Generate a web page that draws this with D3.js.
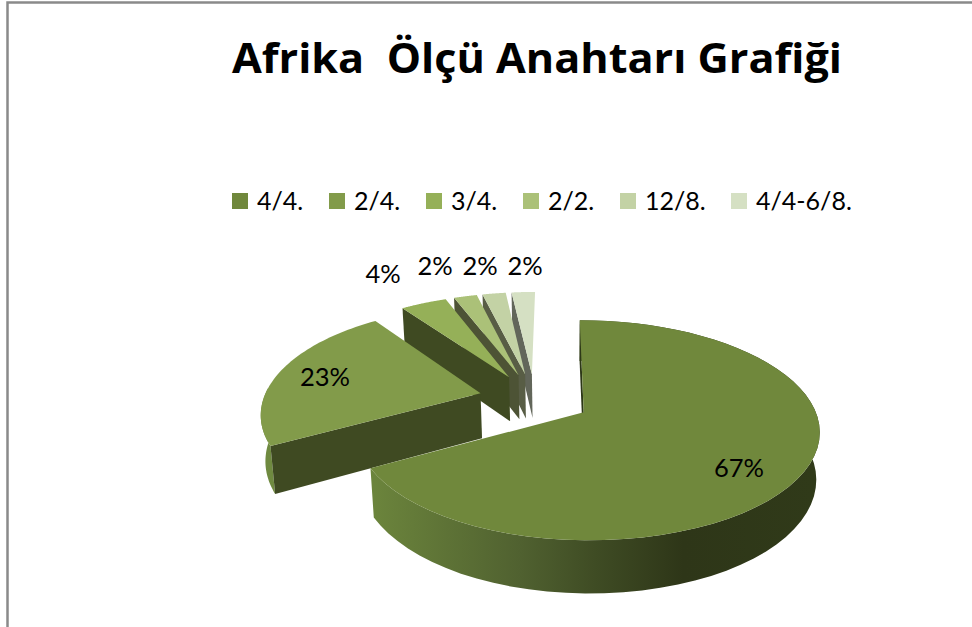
<!DOCTYPE html>
<html><head><meta charset="utf-8">
<script src="https://cdn.jsdelivr.net/npm/d3@7/dist/d3.min.js"></script>
<style>html,body{margin:0;padding:0;background:#fff}svg{display:block}text{font-family:Lato,sans-serif;fill:#000}</style>
</head><body><svg id="c" width="972" height="627"></svg>
<script>
const title = "Afrika  Ölçü Anahtarı Grafiği";
const categories = ["4/4.","2/4.","3/4.","2/2.","12/8.","4/4-6/8."];
const percents = [67,23,4,2,2,2];
const colours = ["#70883c","#829b4a","#95b058","#abc178","#c3d2a5","#d5e0c3"];
const sideColours = ["#3f4a22","#3f4a22","#3f4a22","#4d5335","#585d45","#62665a"];
const legendX = [232,329,426,523,620,731];

const svg = d3.select("#c");
const colour = d3.scaleOrdinal(categories, colours);
const side = d3.scaleOrdinal(categories, sideColours);

// frame
svg.append("path").attr("d","M7.5,627V2.5H972").attr("fill","none").attr("stroke","#8a8a8a").attr("stroke-width",2.5);

svg.append("text").attr("x",232).attr("y",73).attr("font-size",42).attr("font-weight",700)
  .style("font-family","'Open Sans',sans-serif").style("white-space","pre")
  .attr("textLength",610).attr("lengthAdjust","spacingAndGlyphs").text(title);

// legend
const lg = svg.selectAll("g.lg").data(categories).join("g").attr("class","lg").attr("transform",(d,i)=>`translate(${legendX[i]},0)`);
lg.append("rect").attr("y",193).attr("width",16).attr("height",16).attr("fill",d=>colour(d));
lg.append("text").attr("x",25).attr("y",210).attr("font-size",25).text(d=>d);

// perspective ground plane projection
const apex=[584,412], R=232, A=107, K=0.1636, E=0.25, shear=0.043, squeeze=0.035;
const R2=R*0.985, A2=113, D=46;
function proj(u,v,low){
  const dn=1+K*v;
  let X=(low?R2:R)*u/dn;
  const Y=(low?A2:A)*v/dn;
  if(X<0) X*=1-squeeze*(-X)/330;
  return [apex[0]+X-shear*Y, apex[1]-Y+(low?D:0)];
}
const pie=d3.pie().sort(null).value(d=>d)(percents);
const gradId="bigSide";
const grad=svg.append("defs").append("linearGradient").attr("id",gradId).attr("gradientUnits","userSpaceOnUse").attr("x1",375).attr("x2",815).attr("y1",0).attr("y2",0);
[[0,"#6b843c"],[0.33,"#506130"],[0.5,"#3f4c24"],[0.7,"#2e3618"],[1,"#303a19"]].forEach(s=>grad.append("stop").attr("offset",s[0]).attr("stop-color",s[1]));
const line=d3.line();
const origin=[-0.866*E,0.5*E];
function pts(p,a0,a1){
  const m=(p.startAngle+p.endAngle)/2;
  const cu=origin[0]+E*Math.sin(m), cv=origin[1]+E*Math.cos(m);
  const s=a0===undefined?p.startAngle:a0, e=a1===undefined?p.endAngle:a1;
  const arc=d3.range(0,61).map(i=>{const t=s+(e-s)*i/60;return [cu+Math.sin(t),cv+Math.cos(t)];});
  return {c:[cu,cv],arc};
}
// draw back to front: last slices first, biggest last
d3.range(percents.length).reverse().forEach(i=>{
  const p=pie[i], {c,arc}=pts(p), cat=categories[i];
  const g=svg.append("g");
  const up=a=>proj(a[0],a[1],false), lo=a=>proj(a[0],a[1],true);
  if(i>0){
    const s=arc[0];
    if(i===1){
      const vis=pts(p,p.startAngle,1.5*Math.PI+0.05).arc;
      g.append("path").attr("d",line(vis.map(up).concat(vis.map(lo).reverse()))+"Z").attr("fill","#6f8a40");
    }
    g.append("path").attr("d",line([up(c),up(s),lo(s),lo(c)])+"Z").attr("fill",side(cat));
  } else {
    g.append("path").attr("d",line(arc.map(up).concat(arc.map(lo).reverse()))+"Z").attr("fill",`url(#${gradId})`);
    g.append("path").attr("d",line([up(c),up(arc[0]),lo(arc[0]),lo(c)])+"Z").attr("fill","#2d3817");
  }
  g.append("path").attr("d",line([c].concat(arc).map(up))+"Z").attr("fill",colour(cat));
});

// percent labels
const labelPos=[[739,469],[325,378],[383,275],[435,267],[480,267],[525,267]];
svg.selectAll("text.pct").data(percents).join("text").attr("class","pct").attr("text-anchor","middle").attr("font-size",25.5)
  .attr("x",(d,i)=>labelPos[i][0]).attr("y",(d,i)=>labelPos[i][1]+8).text(d=>d+"%");
</script></body></html>
